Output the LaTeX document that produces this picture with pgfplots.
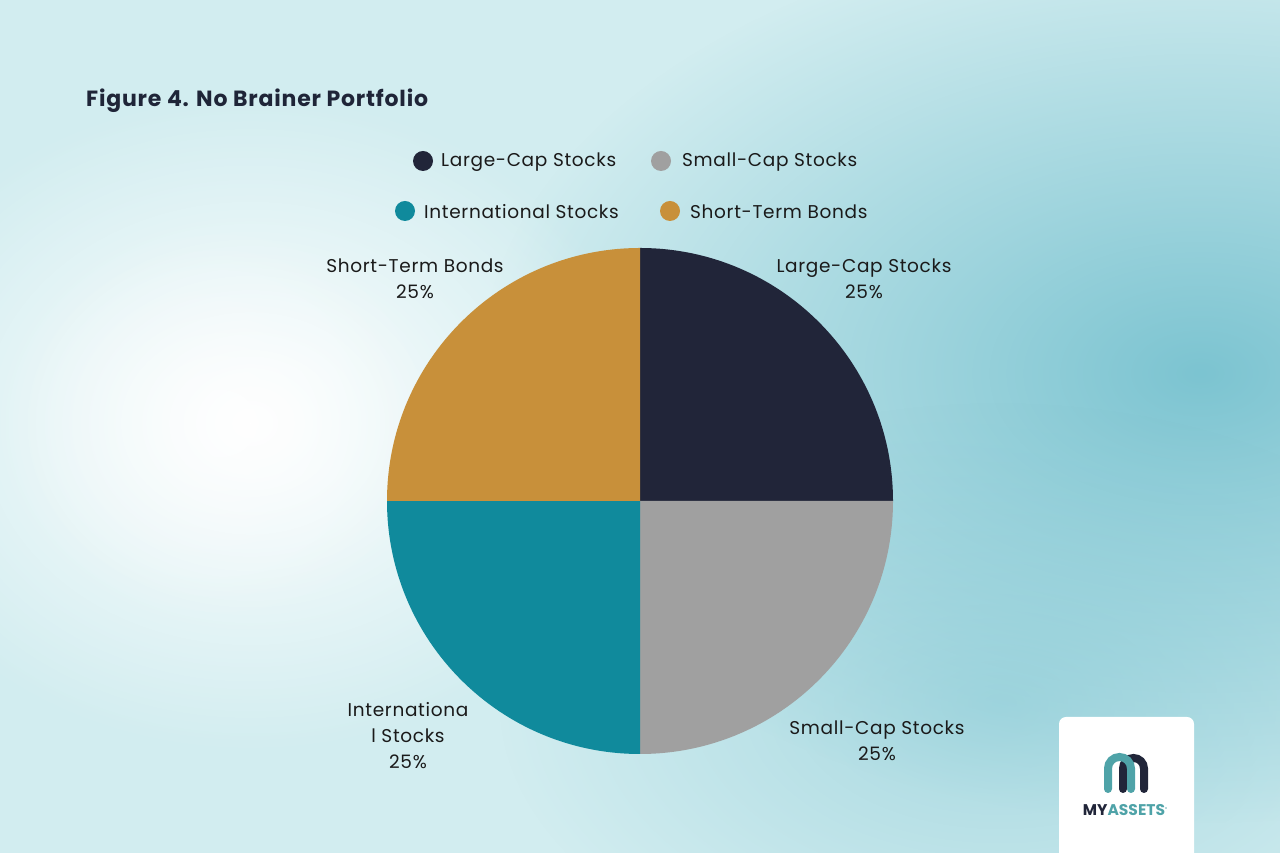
\documentclass[border=0pt]{standalone}
\usepackage{pgfplots}
\pgfplotsset{compat=1.18}
\usepackage{fontspec}
\setmainfont{Poppins}
\newfontfamily\lblfam[LetterSpace=3.6]{Poppins}
\newfontfamily\titlefam[LetterSpace=3.7]{Poppins}
\usetikzlibrary{fadings}
\definecolor{cLarge}{HTML}{212539}
\definecolor{cSmall}{HTML}{A0A0A0}
\definecolor{cIntl}{HTML}{108A9C}
\definecolor{cBonds}{HTML}{C8903A}
\definecolor{bgbase}{HTML}{D2EDF0}
\definecolor{bgteal}{HTML}{7CC4D1}
\definecolor{txt}{HTML}{1A1A1A}
\definecolor{titlec}{HTML}{1F2538}
\definecolor{logoteal}{HTML}{4FA3A8}
\tikzfading[name=blob, inner color=transparent!0, outer color=transparent!100]
% data (percent shares)
\def\vA{25}\def\vB{25}\def\vC{25}\def\vD{25}
\pgfmathsetmacro\tot{\vA+\vB+\vC+\vD}
\pgfmathsetmacro\aA{90}
\pgfmathsetmacro\aB{\aA-360*\vA/\tot}
\pgfmathsetmacro\aC{\aB-360*\vB/\tot}
\pgfmathsetmacro\aD{\aC-360*\vC/\tot}
\pgfmathsetmacro\aE{\aD-360*\vD/\tot}
\newcommand\lblfont{\lblfam\fontsize{18.5}{26}\selectfont}
\begin{document}
\begin{tikzpicture}
\begin{axis}[
  scale only axis, width=1280pt, height=853pt,
  xmin=0, xmax=1280, ymin=0, ymax=853,
  hide axis, clip=true,
]
% background
\fill[bgbase] (axis cs:0,0) rectangle (axis cs:1280,853);
\fill[bgteal, path fading=blob] (axis cs:1200,480) ellipse [x radius=720pt, y radius=450pt];
\fill[bgteal, path fading=blob, opacity=0.5] (axis cs:1000,150) ellipse [x radius=500pt, y radius=300pt];
\fill[white, path fading=blob] (axis cs:250,430) ellipse [x radius=400pt, y radius=330pt];
\fill[white, path fading=blob, opacity=0.6] (axis cs:220,430) ellipse [x radius=220pt, y radius=200pt];
% pie wedges
\fill[cLarge] (axis cs:640,352) -- ++(\aA:253pt) arc[start angle=\aA, end angle=\aB, radius=253pt] -- cycle;
\fill[cSmall] (axis cs:640,352) -- ++(\aB:253pt) arc[start angle=\aB, end angle=\aC, radius=253pt] -- cycle;
\fill[cIntl] (axis cs:640,352) -- ++(\aC:253pt) arc[start angle=\aC, end angle=\aD, radius=253pt] -- cycle;
\fill[cBonds] (axis cs:640,352) -- ++(\aD:253pt) arc[start angle=\aD, end angle=\aE, radius=253pt] -- cycle;
% pie labels
\node[txt, align=center, inner sep=0, font=\lblfont] at (axis cs:864,574) {Large-Cap Stocks\\\vA\%};
\node[txt, align=center, inner sep=0, font=\lblfont] at (axis cs:415,574) {Short-Term Bonds\\\vD\%};
\node[txt, align=center, inner sep=0, font=\lblfont] at (axis cs:877,112) {Small-Cap Stocks\\\vB\%};
\node[txt, align=center, inner sep=0, font=\lblfont] at (axis cs:408,117) {Internationa\\l Stocks\\\vC\%};
% title
\node[titlec, anchor=west, inner sep=0, font=\titlefam\fontsize{22}{26}\selectfont\bfseries] at (axis cs:86,752) {Figure 4. No Brainer Portfolio};
% legend
\fill[cLarge] (axis cs:423,692) circle[radius=10pt];
\node[txt, anchor=west, inner sep=0, font=\lblfont] at (axis cs:441,691) {Large-Cap Stocks};
\fill[cSmall] (axis cs:661,692) circle[radius=10pt];
\node[txt, anchor=west, inner sep=0, font=\lblfont] at (axis cs:682,691) {Small-Cap Stocks};
\fill[cIntl] (axis cs:405,642) circle[radius=10pt];
\node[txt, anchor=west, inner sep=0, font=\lblfont] at (axis cs:424,641) {International Stocks};
\fill[cBonds] (axis cs:670,642) circle[radius=10pt];
\node[txt, anchor=west, inner sep=0, font=\lblfont] at (axis cs:690,641) {Short-Term Bonds};
% logo
\fill[white, rounded corners=7pt] (axis cs:1059,-20) -- (axis cs:1059,136) -- (axis cs:1194,136) -- (axis cs:1194,-20) -- cycle;
\draw[cLarge, line width=8pt, line cap=round] (axis cs:1123,64) -- (axis cs:1123,84.5) arc[start angle=180, end angle=0, radius=10.5pt] -- (axis cs:1144,64);
\draw[logoteal, line width=8pt, line cap=round] (axis cs:1108,64) -- (axis cs:1108,84.5) arc[start angle=180, end angle=0, radius=11.5pt] -- (axis cs:1131,64);
\node[inner sep=0, font=\fontsize{15.5}{16}\selectfont\bfseries] at (axis cs:1125,43) {\textcolor{cLarge}{MY}\textcolor{logoteal}{ASSETS}\raisebox{5pt}{\textcolor{logoteal}{\fontsize{4}{4}\selectfont\textregistered}}};
\end{axis}
\end{tikzpicture}
\end{document}
